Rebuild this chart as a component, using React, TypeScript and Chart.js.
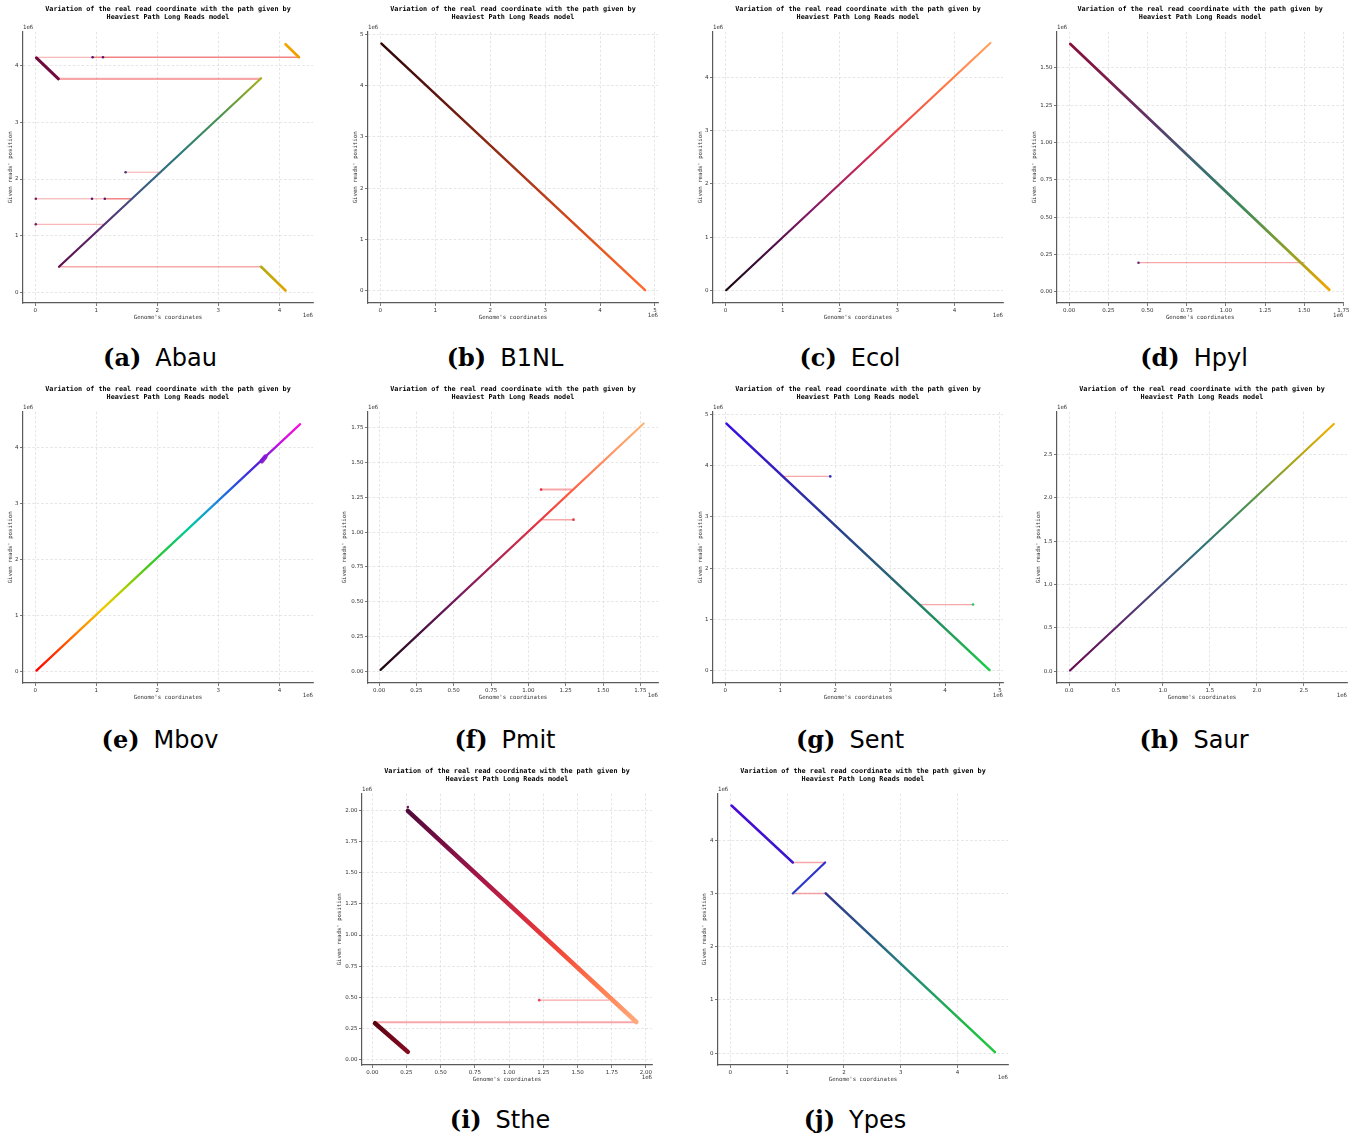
import React, { useEffect, useRef } from "react";
import { Chart, registerables } from "chart.js";

Chart.register(...registerables);

type Pt = [number, number];
type Seg = [Pt, Pt];
type Jump = [number, number, number]; // [y, xStart, xEnd]

// ---------- shared texts ----------
const TITLE_LINES = [
  "Variation of the real read coordinate with the path given by",
  "Heaviest Path Long Reads model",
];
const X_LABEL = "Genome's coordinates";
const Y_LABEL = "Given reads' position";
const OFFSET_LABEL = "1e6";

// ---------- tick labels (values in units of 1e6) ----------
const TICKS_0_4 = ["0", "1", "2", "3", "4"];
const TICKS_0_5 = ["0", "1", "2", "3", "4", "5"];
const TICKS_0_175 = ["0.00", "0.25", "0.50", "0.75", "1.00", "1.25", "1.50", "1.75"];
const TICKS_0_150 = ["0.00", "0.25", "0.50", "0.75", "1.00", "1.25", "1.50"];
const TICKS_0_25 = ["0.0", "0.5", "1.0", "1.5", "2.0", "2.5"];
const TICKS_0_200 = ["0.00", "0.25", "0.50", "0.75", "1.00", "1.25", "1.50", "1.75", "2.00"];

// ---------- data (values in units of 1e6) ----------
// (a) Abau
const ABAU_SEGMENTS: Seg[] = [
  [[0.39, 0.45], [3.7, 3.78]],
  [[0.02, 4.14], [0.38, 3.77]],
  [[4.1, 4.38], [4.32, 4.15]],
  [[3.7, 0.45], [4.1, 0.03]],
];
const ABAU_JUMPS: Jump[] = [
  [4.15, 0.02, 4.33],
  [4.15, 0.94, 4.33],
  [3.77, 0.38, 3.7],
  [0.45, 0.39, 3.7],
  [2.12, 1.48, 2.07],
  [1.65, 0.01, 1.58],
  [1.65, 1.13, 1.58],
  [1.2, 0.01, 1.13],
];
const ABAU_DOTS: Pt[] = [[0.94, 4.15], [1.11, 4.15], [0.93, 1.65], [1.14, 1.65], [1.48, 2.12], [0.01, 1.2], [0.01, 1.65]];

// (b) B1NL
const B1NL_SEGMENTS: Seg[] = [[[0.02, 4.82], [4.82, 0.01]]];
const B1NL_JUMPS: Jump[] = [];
const B1NL_DOTS: Pt[] = [];

// (c) Ecol
const ECOL_SEGMENTS: Seg[] = [[[0.01, 0.01], [4.63, 4.64]]];
const ECOL_JUMPS: Jump[] = [];
const ECOL_DOTS: Pt[] = [];

// (d) Hpyl
const HPYL_SEGMENTS: Seg[] = [[[0.008, 1.66], [1.66, 0.013]]];
const HPYL_JUMPS: Jump[] = [[0.195, 0.443, 1.5]];
const HPYL_DOTS: Pt[] = [[0.443, 0.195]];

// (e) Mbov
const MBOV_SEGMENTS: Seg[] = [
  [[0.02, 0.02], [4.34, 4.41]],
  [[3.71, 3.75], [3.77, 3.83]],
];
const MBOV_JUMPS: Jump[] = [];
const MBOV_DOTS: Pt[] = [];

// (f) Pmit
const PMIT_SEGMENTS: Seg[] = [[[0.01, 0.01], [1.772, 1.781]]];
const PMIT_JUMPS: Jump[] = [
  [1.306, 1.085, 1.291],
  [1.09, 1.085, 1.302],
];
const PMIT_DOTS: Pt[] = [[1.085, 1.306], [1.302, 1.09]];

// (g) Sent
const SENT_SEGMENTS: Seg[] = [[[0.02, 4.82], [4.81, 0.01]]];
const SENT_JUMPS: Jump[] = [
  [3.79, 1.05, 1.91],
  [1.29, 3.55, 4.51],
];
const SENT_DOTS: Pt[] = [[1.91, 3.79], [4.51, 1.29]];

// (h) Saur
const SAUR_SEGMENTS: Seg[] = [[[0.01, 0.01], [2.82, 2.85]]];
const SAUR_JUMPS: Jump[] = [];
const SAUR_DOTS: Pt[] = [];

// (i) Sthe
const STHE_SEGMENTS: Seg[] = [
  [[0.26, 2.0], [1.93, 0.3]],
  [[0.02, 0.29], [0.26, 0.06]],
];
const STHE_JUMPS: Jump[] = [
  [0.298, 0.02, 1.93],
  [0.476, 1.22, 1.73],
];
const STHE_DOTS: Pt[] = [[1.22, 0.476], [0.26, 2.03]];

// (j) Ypes
const YPES_SEGMENTS: Seg[] = [
  [[0.02, 4.65], [1.1, 3.58]],
  [[1.1, 3.0], [1.67, 3.58]],
  [[1.68, 3.0], [4.66, 0.02]],
];
const YPES_JUMPS: Jump[] = [
  [3.58, 1.1, 1.67],
  [3.0, 1.1, 1.68],
];
const YPES_DOTS: Pt[] = [];

// ---------- styles ----------
const JUMP_COLOR = "rgba(240, 80, 80, 0.5)";

interface PanelDef {
  letter: string;
  name: string;
  xTicks: string[];
  yTicks: string[];
  xRange: [number, number];
  yRange: [number, number];
  segments: Seg[];
  segColors: string[][];
  segWidth: number[];
  jumps: Jump[];
  jumpWidth: number[];
  dots: Pt[];
  dotColors: string[];
  left: number;
  top: number;
  yAxisW: number;
  capX: number;
  capY: number;
}

const PANELS: PanelDef[] = [
  {
    letter: "(a)", name: "Abau", xTicks: TICKS_0_4, yTicks: TICKS_0_4,
    xRange: [-0.2, 4.55], yRange: [-0.19, 4.6],
    segments: ABAU_SEGMENTS,
    segColors: [
      ["#5e0f4c", "#5a2a6e", "#3e5a82", "#2b7a7c", "#4a9450", "#a6b11e"],
      ["#6e0a3c", "#740b40"],
      ["#f2a600", "#f09c00"],
      ["#b0ac14", "#e2a400"],
    ],
    segWidth: [2.2, 3, 2.6, 2.6],
    jumps: ABAU_JUMPS, jumpWidth: [1.0, 1.6, 2.2, 1.6, 1.0, 1.0, 1.5, 1.0],
    dots: ABAU_DOTS, dotColors: ["#4a1a6a", "#5a1a6a", "#5a1a6a", "#5a1a6a", "#4a3a7a", "#7a1a5a", "#7a1a5a"],
    left: 7, top: 0, yAxisW: 16, capX: 160, capY: 358,
  },
  {
    letter: "(b)", name: "B1NL", xTicks: TICKS_0_5, yTicks: TICKS_0_5,
    xRange: [-0.225, 5.055], yRange: [-0.24, 5.05],
    segments: B1NL_SEGMENTS,
    segColors: [["#2e0606", "#5a1410", "#8a2a14", "#b83c1c", "#e0541e", "#ff6e30"]],
    segWidth: [2.5],
    jumps: B1NL_JUMPS, jumpWidth: [], dots: B1NL_DOTS, dotColors: [],
    left: 352, top: 0, yAxisW: 16, capX: 505, capY: 358,
  },
  {
    letter: "(c)", name: "Ecol", xTicks: TICKS_0_4, yTicks: TICKS_0_4,
    xRange: [-0.22, 4.85], yRange: [-0.23, 4.85],
    segments: ECOL_SEGMENTS,
    segColors: [["#1a0814", "#4a0f48", "#8a1a66", "#c02658", "#ee4a44", "#ff7a46", "#ffa462"]],
    segWidth: [2.2],
    jumps: ECOL_JUMPS, jumpWidth: [], dots: ECOL_DOTS, dotColors: [],
    left: 697, top: 0, yAxisW: 16, capX: 850, capY: 358,
  },
  {
    letter: "(d)", name: "Hpyl", xTicks: TICKS_0_175, yTicks: TICKS_0_150,
    xRange: [-0.077, 1.75], yRange: [-0.075, 1.741],
    segments: HPYL_SEGMENTS,
    segColors: [["#8a0c3c", "#78204e", "#5a3a6a", "#3a6a72", "#3e8a5a", "#8aa02a", "#f2a600"]],
    segWidth: [2.8],
    jumps: HPYL_JUMPS, jumpWidth: [1.3], dots: HPYL_DOTS, dotColors: ["#6a2a7a"],
    left: 1031, top: 0, yAxisW: 26, capX: 1194, capY: 358,
  },
  {
    letter: "(e)", name: "Mbov", xTicks: TICKS_0_4, yTicks: TICKS_0_4,
    xRange: [-0.2, 4.55], yRange: [-0.2, 4.63],
    segments: MBOV_SEGMENTS,
    segColors: [
      ["#ff0000", "#ff3c00", "#ff8a00", "#f2c800", "#a8d000", "#4ac818", "#18c850", "#00c8a0", "#1890e0", "#2850e0", "#5020d8", "#c010e0", "#ff10d8"],
      ["#9a20c8", "#a020c8"],
    ],
    segWidth: [2.2, 4.5],
    jumps: MBOV_JUMPS, jumpWidth: [], dots: MBOV_DOTS, dotColors: [],
    left: 7, top: 380, yAxisW: 16, capX: 160, capY: 740,
  },
  {
    letter: "(f)", name: "Pmit", xTicks: TICKS_0_175, yTicks: TICKS_0_175,
    xRange: [-0.074, 1.868], yRange: [-0.084, 1.865],
    segments: PMIT_SEGMENTS,
    segColors: [["#200810", "#44103e", "#721a60", "#a82256", "#dc2e44", "#ff5a3e", "#ff9060", "#ffb474"]],
    segWidth: [2.2],
    jumps: PMIT_JUMPS, jumpWidth: [2.0, 1.5], dots: PMIT_DOTS, dotColors: ["#e03040", "#e83040"],
    left: 341, top: 380, yAxisW: 27, capX: 505, capY: 740,
  },
  {
    letter: "(g)", name: "Sent", xTicks: TICKS_0_5, yTicks: TICKS_0_5,
    xRange: [-0.225, 5.055], yRange: [-0.24, 5.05],
    segments: SENT_SEGMENTS,
    segColors: [["#3a0ee6", "#3322b8", "#2a3c92", "#2a5e78", "#22905e", "#1ecc4a"]],
    segWidth: [2.5],
    jumps: SENT_JUMPS, jumpWidth: [1.3, 1.3], dots: SENT_DOTS, dotColors: ["#3030c0", "#30c060"],
    left: 697, top: 380, yAxisW: 16, capX: 850, capY: 740,
  },
  {
    letter: "(h)", name: "Saur", xTicks: TICKS_0_25, yTicks: TICKS_0_25,
    xRange: [-0.128, 2.96], yRange: [-0.134, 2.99],
    segments: SAUR_SEGMENTS,
    segColors: [["#6a0a52", "#5e2468", "#484c7e", "#2e7478", "#4c9052", "#a4a41e", "#f2b000"]],
    segWidth: [2.2],
    jumps: SAUR_JUMPS, jumpWidth: [], dots: SAUR_DOTS, dotColors: [],
    left: 1035, top: 380, yAxisW: 22, capX: 1194, capY: 740,
  },
  {
    letter: "(i)", name: "Sthe", xTicks: TICKS_0_200, yTicks: TICKS_0_200,
    xRange: [-0.075, 2.044], yRange: [-0.046, 2.137],
    segments: STHE_SEGMENTS,
    segColors: [
      ["#520a3a", "#7a0e44", "#a81848", "#d42a3e", "#f24838", "#ff7a4e", "#ffaa7a"],
      ["#5a0010", "#840c22"],
    ],
    segWidth: [4.5, 4.5],
    jumps: STHE_JUMPS, jumpWidth: [2.2, 1.3], dots: STHE_DOTS, dotColors: ["#e84050", "#6a1a5a"],
    left: 336, top: 762, yAxisW: 26, capX: 500, capY: 1120,
  },
  {
    letter: "(j)", name: "Ypes", xTicks: TICKS_0_4, yTicks: TICKS_0_4,
    xRange: [-0.217, 4.89], yRange: [-0.22, 4.87],
    segments: YPES_SEGMENTS,
    segColors: [
      ["#4a0ad8", "#3a18c8"],
      ["#2a3ec8", "#3030c8"],
      ["#30348e", "#2a5a84", "#24887a", "#20b050", "#22c83c"],
    ],
    segWidth: [2.5, 2.2, 2.5],
    jumps: YPES_JUMPS, jumpWidth: [1.4, 1.4], dots: YPES_DOTS, dotColors: [],
    left: 701, top: 762, yAxisW: 17, capX: 855, capY: 1120,
  },
];

const AXES_W = 290;
const PAD_RIGHT = 4;
const CANVAS_H = 323;

function gradientFor(seg: Seg, stops: string[]) {
  return (ctx: any) => {
    const chart = ctx.chart;
    if (!chart.chartArea || !chart.scales.x || !chart.scales.y) return stops[stops.length - 1];
    const xs = chart.scales.x;
    const ys = chart.scales.y;
    const x0 = xs.getPixelForValue(seg[0][0]);
    const y0 = ys.getPixelForValue(seg[0][1]);
    const x1 = xs.getPixelForValue(seg[1][0]);
    const y1 = ys.getPixelForValue(seg[1][1]);
    if (![x0, y0, x1, y1].every(Number.isFinite)) return stops[0];
    const g = chart.ctx.createLinearGradient(x0, y0, x1, y1);
    stops.forEach((c, i) => g.addColorStop(stops.length === 1 ? 0 : i / (stops.length - 1), c));
    return g;
  };
}

const offsetLabelPlugin = {
  id: "offsetLabels",
  afterDraw(chart: any) {
    const { ctx, chartArea: a } = chart;
    ctx.save();
    ctx.font = '5.7px "DejaVu Sans Mono"';
    ctx.fillStyle = "#333";
    ctx.textAlign = "left";
    ctx.textBaseline = "alphabetic";
    ctx.fillText(OFFSET_LABEL, a.left, a.top - 3);
    ctx.textAlign = "right";
    ctx.textBaseline = "middle";
    ctx.fillText(OFFSET_LABEL, a.right, a.bottom + 13);
    ctx.restore();
  },
};

function axisCommon(ticks: string[], range: [number, number], title: string) {
  return {
    type: "linear" as const,
    min: range[0],
    max: range[1],
    afterBuildTicks: (axis: any) => {
      axis.ticks = ticks.map((t) => ({ value: Number(t) }));
    },
    ticks: {
      autoSkip: false,
      maxRotation: 0,
      padding: 1.5,
      color: "#333",
      font: { family: "DejaVu Sans", size: 5.5 },
      callback: (_v: any, i: number) => ticks[i],
    },
    grid: {
      color: "#dadada",
      lineWidth: 0.7,
      tickLength: 3,
      tickColor: "#555",
      tickWidth: 0.8,
      tickBorderDash: [],
    },
    border: { display: true, color: "#5a5a5a", width: 1.2, dash: [2.5, 2] },
    title: {
      display: true,
      text: title,
      color: "#333",
      font: { family: "DejaVu Sans Mono", size: 5.7, lineHeight: 1.2 },
      padding: { top: 0, bottom: 0 },
    },
  };
}

function makeConfig(p: PanelDef): any {
  const datasets: any[] = [];
  p.segments.forEach((s, i) => {
    datasets.push({
      data: s.map(([x, y]) => ({ x, y })),
      showLine: true,
      pointRadius: 0,
      borderWidth: p.segWidth[i],
      borderCapStyle: "round",
      borderColor: gradientFor(s, p.segColors[i]),
    });
  });
  if (p.dots.length) {
    datasets.push({
      data: p.dots.map(([x, y]) => ({ x, y })),
      showLine: false,
      pointRadius: 1.3,
      pointBorderWidth: 0,
      pointBackgroundColor: p.dotColors,
    });
  }
  p.jumps.forEach((j, i) => {
    datasets.push({
      data: [
        { x: j[1], y: j[0] },
        { x: j[2], y: j[0] },
      ],
      showLine: true,
      pointRadius: 0,
      borderWidth: p.jumpWidth[i],
      borderColor: JUMP_COLOR,
    });
  });

  const xAxis: any = axisCommon(p.xTicks, p.xRange, X_LABEL);
  xAxis.afterFit = (s: any) => {
    s.height = 18;
  };
  const yAxis: any = axisCommon(p.yTicks, p.yRange, Y_LABEL);
  yAxis.afterFit = (s: any) => {
    s.width = p.yAxisW;
  };

  return {
    type: "scatter",
    data: { datasets },
    options: {
      responsive: false,
      animation: false,
      devicePixelRatio: 1,
      layout: { padding: { top: 0, left: 0, right: PAD_RIGHT, bottom: 2 } },
      plugins: {
        legend: { display: false },
        tooltip: { enabled: false },
        title: {
          display: true,
          text: TITLE_LINES,
          fullSize: false,
          color: "#000",
          font: { family: "DejaVu Sans Mono", size: 6.8, weight: "bold", lineHeight: 1.235 },
          padding: { top: 5, bottom: 10 },
        },
      },
      scales: { x: xAxis, y: yAxis },
    },
    plugins: [offsetLabelPlugin],
  };
}

function Panel({ p }: { p: PanelDef }) {
  const ref = useRef<HTMLCanvasElement>(null);
  useEffect(() => {
    if (!ref.current) return;
    const chart = new Chart(ref.current, makeConfig(p));
    return () => chart.destroy();
  }, [p]);
  const w = p.yAxisW + AXES_W + PAD_RIGHT;
  return (
    <>
      <canvas
        ref={ref}
        width={w}
        height={CANVAS_H}
        style={{ position: "absolute", left: p.left, top: p.top, width: w, height: CANVAS_H }}
      />
      <div
        style={{
          position: "absolute",
          left: p.capX,
          top: p.capY,
          transform: "translate(-50%, -50%)",
          whiteSpace: "nowrap",
          lineHeight: 1,
          fontSize: 24,
          color: "#000",
        }}
      >
        <span style={{ fontFamily: '"DejaVu Serif", serif', fontWeight: "bold", marginRight: 14 }}>{p.letter}</span>
        <span style={{ fontFamily: '"DejaVu Sans", sans-serif' }}>{p.name}</span>
      </div>
    </>
  );
}

export default function App() {
  return (
    <div
      style={{
        position: "absolute",
        left: 0,
        top: 0,
        width: 1371,
        height: 1142,
        background: "#ffffff",
        overflow: "hidden",
      }}
    >
      {PANELS.map((p) => (
        <Panel key={p.letter} p={p} />
      ))}
    </div>
  );
}
